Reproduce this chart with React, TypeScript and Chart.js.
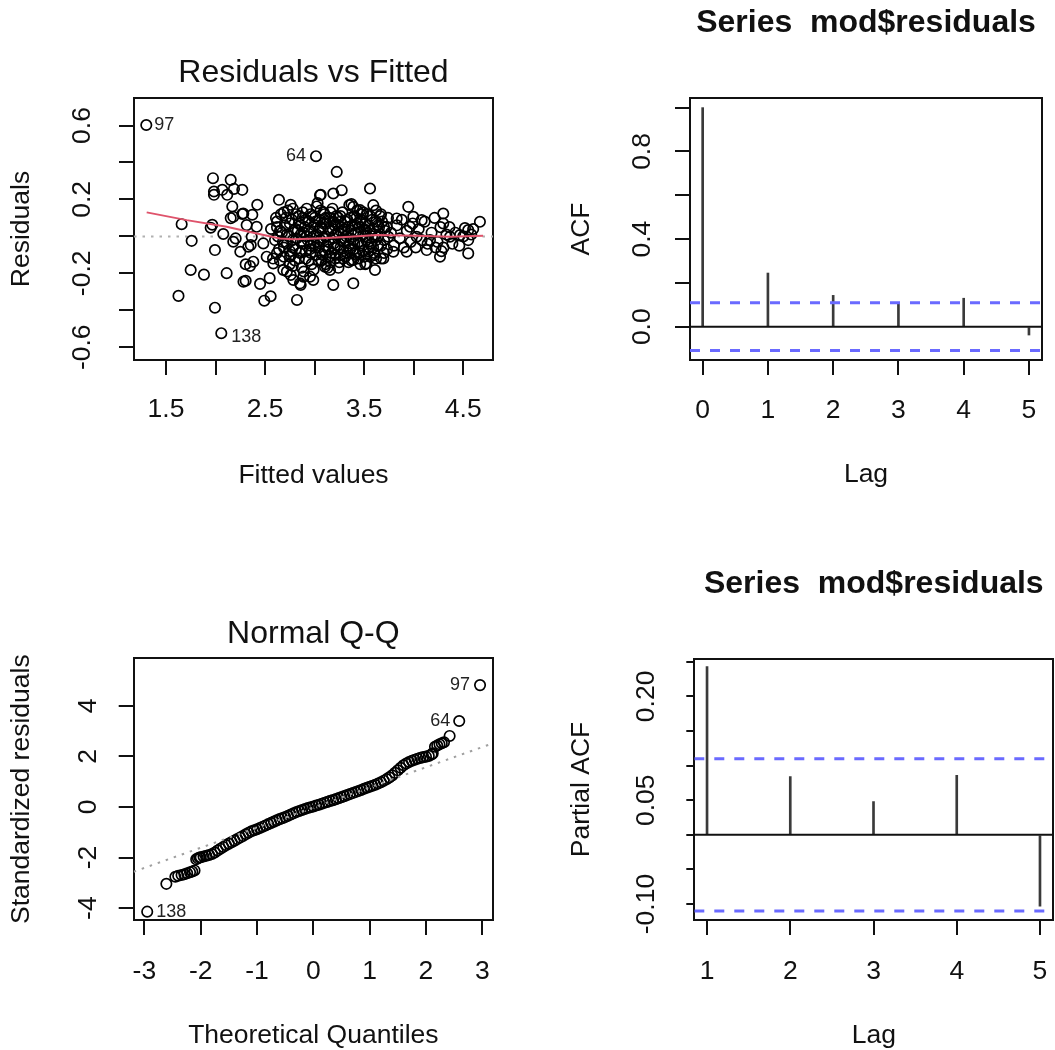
import React, { useEffect, useRef } from "react";
import { Chart, registerables } from "chart.js";

Chart.register(...registerables);

// ---------------- DATA ----------------
// Residuals vs Fitted
const rvfFitted = [
  1.301, 3.014, 2.058,
  1.658, 1.759, 1.951, 1.994, 2.078, 1.749, 1.883, 2.112, 1.626, 1.994, 2.282, 2.304, 2.449, 2.492, 2.556, 2.822,
  2.546, 2.348, 2.179, 2.203, 2.25, 2.355, 1.974, 2.153, 1.984, 2.068, 2.186, 2.27, 1.984, 2.118, 2.169, 2.27,
  2.421, 2.371, 2.153, 2.64, 2.758, 1.967, 2.179, 2.28, 2.314, 2.415, 2.365, 2.331, 2.482, 2.516, 2.381, 2.583,
  2.684, 2.785, 2.886, 2.852, 2.953, 3.155, 3.188, 3.39, 3.609, 3.223, 3.054, 3.188, 3.273, 3.559, 3.592, 3.371,
  3.458, 3.828, 3.945, 3.996, 4.08, 4.298, 4.298, 4.668, 4.55, 4.467, 4.55, 4.265, 4.131, 3.929, 3.794, 3.609,
  3.525, 3.39, 3.104, 2.986, 2.751, 4.366, 4.164, 4.03, 3.743, 3.727, 3.962, 3.061, 3.021, 4.517, 3.693, 2.758,
  2.859, 2.304,
  2.56, 2.6, 2.62, 2.64, 2.66, 2.67, 2.69, 2.7, 2.72, 2.73, 2.74, 2.75, 2.58, 2.61, 2.68,
  2.77, 2.78, 2.79, 2.8, 2.81, 2.82, 2.84, 2.85, 2.86, 2.87, 2.88, 2.89, 2.9, 2.91, 2.92, 2.93, 2.94, 2.95,
  2.96, 2.97, 2.98, 2.99, 3.0, 3.01, 3.02, 3.03, 3.04, 3.05, 3.06, 3.07, 3.08, 3.09, 3.1, 3.11, 3.12, 3.13, 3.14, 3.15,
  3.16, 3.17, 3.18, 3.19, 3.2, 3.21, 3.22, 3.23, 3.24, 3.25, 3.26, 3.27, 3.28, 3.29, 3.3, 3.31, 3.32, 3.33, 3.34, 3.35,
  3.36, 3.37, 3.38, 3.39, 3.4, 3.41, 3.42, 3.43, 3.44, 3.45, 3.46, 3.47, 3.48, 3.49, 3.5, 3.51, 3.52, 3.53, 3.54,
  3.56, 3.57, 3.58, 3.6, 3.61, 3.62, 3.64, 3.65, 3.67, 3.68, 3.7, 3.71, 3.73, 3.74,
  3.77, 3.8, 3.83, 3.86, 3.88, 3.9, 3.93, 3.97, 3.99, 4.02, 4.05, 4.08, 4.11, 4.14, 4.18, 4.21, 4.24, 4.27, 4.3,
  4.33, 4.36, 4.39, 4.42, 4.46, 4.5, 4.55, 4.6, 4.58, 4.28, 4.22,
  2.83, 2.87, 2.92, 2.96, 3.0, 3.03, 3.06, 3.1, 3.12, 3.15, 3.18, 3.2, 3.24, 3.27, 3.3, 3.33, 3.37, 3.4, 3.43,
  3.45, 3.48, 3.52, 3.55, 3.58, 3.62, 3.66, 2.71, 2.76, 2.63, 2.88, 3.08, 3.26, 3.42, 3.5,
  2.62, 2.62, 2.65, 2.65, 2.69, 2.69, 2.72, 2.72, 2.75, 2.75, 2.78, 2.78, 2.78, 2.81, 2.81, 2.84, 2.84, 2.86, 2.86,
  2.89, 2.89, 2.91, 2.91, 2.94, 2.94, 2.96, 2.96, 2.99, 2.99, 3.01, 3.01, 3.04, 3.04, 3.06, 3.06, 3.09, 3.09,
  3.11, 3.11, 3.14, 3.14, 3.16, 3.16, 3.19, 3.19, 3.21, 3.21, 3.24, 3.24, 3.26, 3.26, 3.29, 3.29, 3.31, 3.31,
  3.34, 3.34, 3.36, 3.36, 3.39, 3.39, 3.41, 3.41, 3.44, 3.44, 3.46, 3.46, 3.49, 3.49, 3.51, 3.51, 3.54, 3.54,
  3.56, 3.56, 3.59, 3.59, 3.62, 3.62, 3.64, 3.64, 3.67, 3.67, 3.7, 3.7,
];
const rvfResiduals = [
  0.603, 0.434, -0.524,
  0.066, -0.024, 0.047, -0.074, 0.013, -0.182, -0.207, -0.199, -0.322, -0.386, -0.245, -0.24, -0.257, -0.348, -0.324, -0.344,
  -0.226, -0.16, -0.029, -0.011, -0.083, -0.047, 0.315, 0.306, 0.243, 0.252, 0.257, 0.252, 0.225, 0.225, 0.162, 0.121,
  0.171, 0.117, 0.099, 0.198, 0.171, 0.063, 0.106, 0.124, 0.061, 0.052, -0.002, -0.056, -0.038, -0.11, -0.137, -0.146,
  -0.182, -0.236, -0.218, -0.254, -0.218, -0.182, -0.263, -0.254, -0.182, 0.349, 0.223, 0.232, 0.25, 0.259, 0.169, 0.175,
  0.142, 0.097, 0.16, 0.106, 0.088, 0.124, 0.07, 0.079, 0.034, 0.007, -0.092, -0.11, -0.074, -0.083, -0.083, -0.101,
  -0.146, -0.128, -0.164, -0.236, -0.11, -0.002, -0.02, -0.002, -0.002, 0.052, 0.052, 0.225, 0.162, 0.045, -0.119, -0.209,
  -0.263, -0.151,
  0.04, -0.02, 0.08, -0.07, 0.12, 0.02, -0.11, 0.06, -0.04, 0.14, 0.0, -0.15, -0.12, 0.1, -0.03,
  0.09, -0.06, 0.03, -0.13, 0.12, -0.01, 0.07, -0.09, 0.01, -0.17, 0.1, -0.04, 0.05, -0.12, 0.15, -0.02, 0.08, -0.07,
  0.02, -0.15, 0.11, -0.04, 0.06, -0.1, 0.01, 0.18, -0.06, 0.09, -0.02, -0.13, 0.04, 0.13, -0.08, 0.0, 0.07, -0.17, -0.03, 0.1,
  0.03, -0.09, 0.15, -0.01, 0.06, -0.12, 0.11, -0.05, 0.02, -0.14, 0.08, -0.02, 0.13, -0.08, 0.04, -0.11, 0.0, 0.09, -0.05, 0.17,
  -0.01, -0.13, 0.06, -0.07, 0.11, 0.02, -0.1, 0.14, -0.03, 0.05, -0.15, 0.09, -0.05, 0.01, -0.11, 0.07, -0.02, 0.12, -0.08,
  0.03, -0.04, 0.09, -0.09, 0.01, 0.14, -0.05, 0.05, -0.12, 0.08, -0.02, 0.03, -0.07, 0.1,
  0.02, -0.05, 0.06, -0.01, 0.09, -0.06, 0.03, -0.03, 0.07, -0.06, 0.04, -0.02, 0.08, -0.04, 0.02, 0.1, -0.03, 0.05, -0.06,
  0.01, 0.05, -0.04, 0.02, -0.05, 0.0, -0.02, 0.04, 0.01, -0.08, -0.06,
  0.03, -0.08, 0.0, -0.09, 0.1, -0.03, 0.05, 0.12, -0.05, -0.11, 0.04, -0.06, 0.1, 0.05, -0.03, -0.09, 0.03, -0.04, 0.07,
  -0.09, 0.12, 0.03, -0.06, 0.0, -0.02, 0.11, 0.1, -0.1, 0.0, 0.13, -0.1, -0.1, 0.1, 0.04,
  -0.09, 0.05, 0.03, -0.13, 0.13, -0.06, 0.01, -0.19, 0.07, -0.08, -0.02, 0.15, -0.16, 0.04, -0.07, -0.12, 0.11, 0.06, -0.03,
  -0.19, 0.02, 0.09, -0.08, -0.13, 0.03, 0.12, -0.05, 0.0, -0.18, 0.08, -0.06, 0.03, -0.13, 0.14, -0.09, -0.01, 0.07,
  -0.15, 0.1, 0.04, -0.07, 0.13, -0.14, 0.08, -0.04, -0.1, 0.01, -0.17, 0.06, 0.11, -0.06, 0.02, -0.12, 0.08, -0.02,
  -0.14, 0.05, 0.1, -0.07, -0.02, 0.16, -0.09, 0.06, 0.02, -0.12, 0.08, -0.04, -0.08, 0.13, 0.0, -0.15, 0.06, -0.03,
  -0.11, 0.11, 0.04, -0.06, 0.08, -0.12, 0.0, 0.06, -0.05, 0.12, 0.05, -0.09,
];
const rvfSmoothFitted = [1.305, 1.709, 2.112, 2.381, 2.65, 2.785, 3.02, 3.357, 3.626, 4.03, 4.366, 4.7];
const rvfSmoothResid = [0.13, 0.088, 0.052, 0.02, -0.011, -0.016, -0.011, -0.002, 0.007, 0.003, -0.002, 0.003];
const rvfLabelIndex = [0, 1, 2];
const rvfLabelText = ["97", "64", "138"];
const rvfXRange = [1.177, 4.8];
const rvfYRange = [-0.669, 0.749];
const rvfXTickLabels = ["1.5", "2.5", "3.5", "4.5"];
const rvfYTickLabels = ["-0.6", "-0.2", "0.2", "0.6"];

// ACF
const acfLags = [0, 1, 2, 3, 4, 5];
const acfValues = [1.0, 0.245, 0.143, 0.104, 0.13, -0.038];
const acfBound = 0.109;
const acfXRange = [-0.194, 5.2];
const acfYRange = [-0.152, 1.044];
const acfXTickLabels = ["0", "1", "2", "3", "4", "5"];
const acfYTickLabels = ["0.0", "0.4", "0.8"];

// Normal Q-Q
const qqTheoretical = [
  -2.95, -2.61, -2.45, -2.4, -2.34, -2.29, -2.24, -2.19, -2.15, -2.11, -2.08, -2.05, -2.02,
  -2.0, -1.95, -1.9, -1.85, -1.8, -1.75, -1.7, -1.65, -1.6, -1.55, -1.5, -1.45, -1.4, -1.35, -1.3, -1.25,
  -1.2, -1.15, -1.1, -1.05, -1.0, -0.95, -0.9, -0.85, -0.8, -0.75, -0.7, -0.65, -0.6, -0.55, -0.5, -0.45,
  -0.4, -0.35, -0.3, -0.25, -0.2, -0.15, -0.1, -0.05, 0.0, 0.05, 0.1, 0.15, 0.2, 0.25, 0.3, 0.35, 0.4,
  0.45, 0.5, 0.55, 0.6, 0.65, 0.7, 0.75, 0.8, 0.85, 0.9, 0.95, 1.0, 1.05, 1.1, 1.15, 1.2, 1.25, 1.3, 1.35,
  1.4, 1.45, 1.5, 1.55, 1.6, 1.65, 1.7, 1.75, 1.8, 1.85, 1.9, 1.95, 2.0, 2.05, 2.1,
  2.12, 2.16, 2.2, 2.24, 2.28, 2.32, 2.42, 2.59, 2.96,
];
const qqStdResiduals = [
  -4.14, -3.04, -2.76, -2.72, -2.69, -2.66, -2.62, -2.58, -2.55, -2.51, -2.07, -2.03, -2.0,
  -1.99, -1.96, -1.93, -1.9, -1.86, -1.8, -1.72, -1.65, -1.58, -1.51, -1.45, -1.39, -1.33, -1.27, -1.21, -1.15,
  -1.08, -1.02, -0.96, -0.92, -0.88, -0.83, -0.78, -0.73, -0.68, -0.63, -0.58, -0.53, -0.48, -0.44, -0.4, -0.35,
  -0.3, -0.25, -0.2, -0.16, -0.12, -0.08, -0.04, -0.01, 0.02, 0.06, 0.09, 0.13, 0.17, 0.2, 0.24, 0.27, 0.31,
  0.35, 0.39, 0.43, 0.47, 0.51, 0.55, 0.59, 0.63, 0.67, 0.72, 0.76, 0.8, 0.84, 0.88, 0.93, 0.98, 1.04, 1.1, 1.17,
  1.25, 1.35, 1.45, 1.55, 1.65, 1.72, 1.78, 1.83, 1.87, 1.91, 1.94, 1.97, 1.99, 2.02, 2.08,
  2.12, 2.38, 2.43, 2.48, 2.52, 2.56, 2.81, 3.4, 4.82,
];
const qqLineX = [-3.19, 3.19];
const qqLineY = [-2.56, 2.52];
const qqLabelIndex = [0, 103, 104];
const qqLabelText = ["138", "64", "97"];
const qqXRange = [-3.19, 3.19];
const qqYRange = [-4.47, 5.88];
const qqXTickLabels = ["-3", "-2", "-1", "0", "1", "2", "3"];
const qqYTickLabels = ["-4", "-2", "0", "2", "4"];

// PACF
const pacfLags = [1, 2, 3, 4, 5];
const pacfValues = [0.243, 0.084, 0.048, 0.086, -0.103];
const pacfBound = 0.11;
const pacfXRange = [0.847, 5.16];
const pacfYRange = [-0.123, 0.254];
const pacfXTickLabels = ["1", "2", "3", "4", "5"];
const pacfYTickLabels = ["-0.10", "0.05", "0.20"];

// ---------------- STYLE HELPERS ----------------
const FONT = "'Liberation Sans', Arial, Helvetica, sans-serif";
const TXT = "#111";
const TICK_SIZE = 26.5;

function zeroPad(s: any) {
  s.paddingTop = 0;
  s.paddingBottom = 0;
  s.paddingLeft = 0;
  s.paddingRight = 0;
}

function yAxis(o: any) {
  return {
    type: "linear",
    position: "left",
    min: o.range[0],
    max: o.range[1],
    afterFit: (s: any) => {
      s.width = o.width;
      zeroPad(s);
    },
    ticks: {
      stepSize: o.step,
      includeBounds: false,
      autoSkip: false,
      minRotation: 90,
      maxRotation: 90,
      crossAlign: "center",
      padding: o.tickPad,
      color: TXT,
      font: { family: FONT, size: TICK_SIZE, lineHeight: 1 },
      callback: (v: any) => {
        const s = o.fmt(Number(v));
        return o.labels.includes(s) ? s : "";
      },
    },
    grid: {
      display: true,
      drawOnChartArea: false,
      drawTicks: true,
      tickLength: o.tickLen,
      tickWidth: 2,
      tickColor: "#111",
      color: "#111",
      lineWidth: 2,
      offset: false,
    },
    border: { display: true, color: "#111", width: 2 },
    title: {
      display: true,
      text: o.title,
      color: TXT,
      font: { family: FONT, size: TICK_SIZE, lineHeight: 1 },
      padding: { top: o.titlePad, bottom: 0 },
    },
  };
}

function xAxis(o: any) {
  return {
    type: "linear",
    position: "bottom",
    min: o.range[0],
    max: o.range[1],
    offset: false,
    afterFit: (s: any) => {
      s.height = o.height;
      zeroPad(s);
    },
    ticks: {
      stepSize: o.step,
      includeBounds: false,
      autoSkip: false,
      minRotation: 0,
      maxRotation: 0,
      padding: o.tickPad,
      color: TXT,
      font: { family: FONT, size: TICK_SIZE, lineHeight: 1 },
      callback: (v: any) => {
        const s = o.fmt(Number(v));
        return o.labels.includes(s) ? s : "";
      },
    },
    grid: {
      display: true,
      drawOnChartArea: false,
      drawTicks: true,
      tickLength: 15,
      tickWidth: 2,
      tickColor: "#111",
      color: "#111",
      lineWidth: 2,
      offset: false,
    },
    border: { display: true, color: "#111", width: 2 },
    title: {
      display: true,
      text: o.title,
      color: TXT,
      font: { family: FONT, size: TICK_SIZE, lineHeight: 1 },
      padding: { top: 0, bottom: o.titlePad },
    },
  };
}

function frameAxes(xr: number[], yr: number[]) {
  return {
    x2: {
      type: "linear",
      position: "top",
      min: xr[0],
      max: xr[1],
      offset: false,
      afterFit: (s: any) => {
        s.height = 0;
        zeroPad(s);
      },
      ticks: { display: false },
      grid: { display: false, drawTicks: false },
      border: { display: true, color: "#111", width: 2 },
    },
    y2: {
      type: "linear",
      position: "right",
      min: yr[0],
      max: yr[1],
      afterFit: (s: any) => {
        s.width = 0;
        zeroPad(s);
      },
      ticks: { display: false },
      grid: { display: false, drawTicks: false },
      border: { display: true, color: "#111", width: 2 },
    },
  };
}

function titleOpts(text: string, bold: boolean, top: number, bottom: number) {
  return {
    display: true,
    text,
    fullSize: false,
    position: "top",
    align: "center",
    color: TXT,
    font: { family: FONT, size: 32, weight: bold ? "bold" : "normal", lineHeight: 1 },
    padding: { top, bottom },
  };
}

const pointLabelPlugin = {
  id: "pointLabels",
  afterDatasetsDraw(chart: any, _args: any, opts: any) {
    const items = opts && opts.items;
    if (!items) return;
    const ctx = chart.ctx;
    const xs = chart.scales.x;
    const ys = chart.scales.y;
    ctx.save();
    ctx.font = `18px ${FONT}`;
    ctx.fillStyle = "#222";
    ctx.textBaseline = "middle";
    for (const it of items) {
      const px = xs.getPixelForValue(it.x);
      const py = ys.getPixelForValue(it.y);
      if (it.side === "left") {
        ctx.textAlign = "right";
        ctx.fillText(it.text, px - it.gap, py + (it.dy || 0));
      } else {
        ctx.textAlign = "left";
        ctx.fillText(it.text, px + it.gap, py + (it.dy || 0));
      }
    }
    ctx.restore();
  },
};

function common(padRight: number) {
  return {
    animation: false,
    responsive: true,
    maintainAspectRatio: false,
    events: [],
    layout: { padding: { left: 0, right: padRight, top: 0, bottom: 0 } },
  };
}

const fmt1 = (v: number) => v.toFixed(1);
const fmt2 = (v: number) => v.toFixed(2);
const fmtInt = (v: number) => String(Math.round(v));

// ---------------- PANEL CONFIGS ----------------
function rvfConfig(): any {
  const labelSides = ["right", "left", "right"];
  const labelGaps = [8, 10, 10];
  const labelDy = [0, 0, 4];
  return {
    type: "scatter",
    data: {
      datasets: [
        {
          type: "line",
          data: rvfSmoothFitted.map((x, i) => ({ x, y: rvfSmoothResid[i] })),
          borderColor: "#DF536B",
          borderWidth: 2,
          pointRadius: 0,
          showLine: true,
          fill: false,
          tension: 0,
          order: 0,
        },
        {
          type: "scatter",
          data: rvfFitted.map((x, i) => ({ x, y: rvfResiduals[i] })),
          pointStyle: "circle",
          pointRadius: 5.2,
          borderColor: "#000",
          borderWidth: 1.7,
          backgroundColor: "rgba(0,0,0,0)",
          order: 1,
        },
        {
          type: "line",
          data: [
            { x: rvfXRange[0], y: 0 },
            { x: rvfXRange[1], y: 0 },
          ],
          borderColor: "#b0b0b0",
          borderWidth: 2,
          borderDash: [2.5, 6],
          pointRadius: 0,
          showLine: true,
          order: 2,
        },
      ],
    },
    options: {
      ...common(34),
      scales: {
        x: xAxis({ range: rvfXRange, step: 0.5, height: 165, tickPad: 21, title: "Fitted values", titlePad: 35.7, labels: rvfXTickLabels, fmt: fmt1 }),
        y: yAxis({ range: rvfYRange, step: 0.2, width: 134, tickLen: 15, tickPad: 13.5, title: "Residuals", titlePad: 8.2, labels: rvfYTickLabels, fmt: fmt1 }),
        ...frameAxes(rvfXRange, rvfYRange),
      },
      plugins: {
        legend: { display: false },
        tooltip: { enabled: false },
        title: titleOpts("Residuals vs Fitted", false, 57.3, 8.7),
        pointLabels: {
          items: rvfLabelIndex.map((idx, i) => ({
            x: rvfFitted[idx],
            y: rvfResiduals[idx],
            text: rvfLabelText[i],
            side: labelSides[i],
            gap: labelGaps[i],
            dy: labelDy[i],
          })),
        },
      },
    },
    plugins: [pointLabelPlugin],
  };
}

function corrConfig(
  lags: number[],
  values: number[],
  bound: number,
  xr: number[],
  yr: number[],
  p: any
): any {
  return {
    type: "scatter",
    data: {
      datasets: [
        {
          type: "bar",
          data: lags.map((x, i) => ({ x, y: values[i] })),
          backgroundColor: "#3a3a3a",
          borderWidth: 0,
          barThickness: 2,
          order: 1,
        },
        {
          type: "line",
          data: [
            { x: xr[0], y: 0 },
            { x: xr[1], y: 0 },
          ],
          borderColor: "#111",
          borderWidth: 2,
          pointRadius: 0,
          showLine: true,
          order: 0,
        },
        {
          type: "line",
          data: [
            { x: xr[0], y: bound },
            { x: xr[1], y: bound },
          ],
          borderColor: "#6a6aff",
          borderWidth: 3,
          borderDash: [10, 10],
          pointRadius: 0,
          showLine: true,
          order: 0,
        },
        {
          type: "line",
          data: [
            { x: xr[0], y: -bound },
            { x: xr[1], y: -bound },
          ],
          borderColor: "#6a6aff",
          borderWidth: 3,
          borderDash: [10, 10],
          pointRadius: 0,
          showLine: true,
          order: 0,
        },
      ],
    },
    options: {
      ...common(p.padRight),
      scales: {
        x: xAxis({ range: xr, step: 1, height: p.xHeight, tickPad: p.xTickPad, title: "Lag", titlePad: p.xTitlePad, labels: p.xLabels, fmt: fmtInt }),
        y: yAxis({ range: yr, step: p.yStep, width: p.yWidth, tickLen: p.yTickLen, tickPad: p.yTickPad, title: p.yTitle, titlePad: p.yTitlePad, labels: p.yLabels, fmt: p.yFmt }),
        ...frameAxes(xr, yr),
      },
      plugins: {
        legend: { display: false },
        tooltip: { enabled: false },
        title: titleOpts("Series  mod$residuals", true, p.titleTop, p.titleBottom),
      },
    },
  };
}

function acfConfig(): any {
  return corrConfig(acfLags, acfValues, acfBound, acfXRange, acfYRange, {
    padRight: 13,
    xHeight: 165,
    xTickPad: 22.5,
    xTitlePad: 36.7,
    xLabels: acfXTickLabels,
    yStep: 0.2,
    yWidth: 163,
    yTickLen: 15,
    yTickPad: 13.6,
    yTitle: "ACF",
    yTitlePad: 41.2,
    yLabels: acfYTickLabels,
    yFmt: fmt1,
    titleTop: 7.3,
    titleBottom: 58.7,
  });
}

function pacfConfig(): any {
  return corrConfig(pacfLags, pacfValues, pacfBound, pacfXRange, pacfYRange, {
    padRight: 1.7,
    xHeight: 130,
    xTickPad: 23.7,
    xTitlePad: 0.7,
    xLabels: pacfXTickLabels,
    yStep: 0.05,
    yWidth: 167.3,
    yTickLen: 8,
    yTickPad: 9.4,
    yTitle: "Partial ACF",
    yTitlePad: 41.4,
    yLabels: pacfYTickLabels,
    yFmt: fmt2,
    titleTop: 43,
    titleBottom: 59,
  });
}

function qqConfig(): any {
  const labelSides = ["right", "left", "left"];
  const labelGaps = [9, 9, 10];
  return {
    type: "scatter",
    data: {
      datasets: [
        {
          type: "scatter",
          data: qqTheoretical.map((x, i) => ({ x, y: qqStdResiduals[i] })),
          pointStyle: "circle",
          pointRadius: 5.2,
          borderColor: "#000",
          borderWidth: 1.7,
          backgroundColor: "rgba(0,0,0,0)",
          order: 1,
        },
        {
          type: "line",
          data: qqLineX.map((x, i) => ({ x, y: qqLineY[i] })),
          borderColor: "#a0a0a0",
          borderWidth: 2,
          borderDash: [2.5, 6],
          pointRadius: 0,
          showLine: true,
          order: 0,
        },
      ],
    },
    options: {
      ...common(34),
      scales: {
        x: xAxis({ range: qqXRange, step: 1, height: 130, tickPad: 23.7, title: "Theoretical Quantiles", titlePad: 0.7, labels: qqXTickLabels, fmt: fmtInt }),
        y: yAxis({ range: qqYRange, step: 2, width: 133.7, tickLen: 15, tickPad: 18, title: "Standardized residuals", titlePad: 8.2, labels: qqYTickLabels, fmt: fmtInt }),
        ...frameAxes(qqXRange, qqYRange),
      },
      plugins: {
        legend: { display: false },
        tooltip: { enabled: false },
        title: titleOpts("Normal Q-Q", false, 93, 8.3),
        pointLabels: {
          items: qqLabelIndex.map((idx, i) => ({
            x: qqTheoretical[idx],
            y: qqStdResiduals[idx],
            text: qqLabelText[i],
            side: labelSides[i],
            gap: labelGaps[i],
            dy: 0,
          })),
        },
      },
    },
    plugins: [pointLabelPlugin],
  };
}

// ---------------- COMPONENTS ----------------
function ChartPanel(props: { left: number; top: number; width: number; height: number; make: () => any }) {
  const ref = useRef<HTMLCanvasElement | null>(null);
  useEffect(() => {
    if (!ref.current) return;
    const chart = new Chart(ref.current, props.make());
    return () => chart.destroy();
  }, []);
  return (
    <div style={{ position: "absolute", left: props.left, top: props.top, width: props.width, height: props.height }}>
      <canvas ref={ref} />
    </div>
  );
}

export default function App() {
  return (
    <div style={{ position: "absolute", left: 0, top: 0, width: 1055, height: 1050, background: "#fff", overflow: "hidden" }}>
      <ChartPanel left={0} top={0} width={527} height={525} make={rvfConfig} />
      <ChartPanel left={527} top={0} width={528} height={525} make={acfConfig} />
      <ChartPanel left={0} top={525} width={527} height={525} make={qqConfig} />
      <ChartPanel left={527} top={525} width={528} height={525} make={pacfConfig} />
    </div>
  );
}
